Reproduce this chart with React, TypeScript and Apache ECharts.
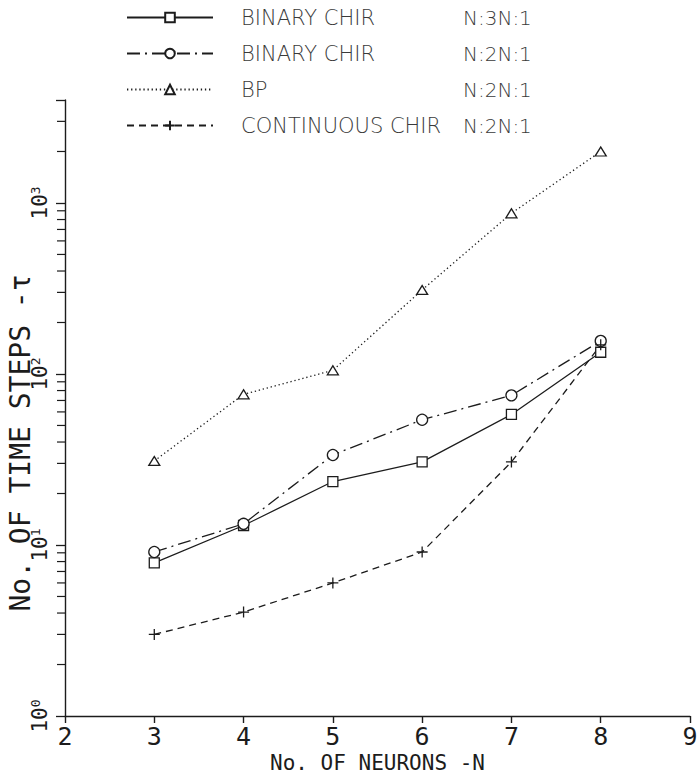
import React, { useEffect, useRef } from "react";
import * as echarts from "echarts";

// ---- data ----
const neurons = [3, 4, 5, 6, 7, 8];
const binaryChir3N = [7.85, 13.0, 23.5, 30.6, 58, 134];
const binaryChir2N = [9.1, 13.3, 33.6, 54, 75, 156];
const bpValues = [31, 76, 105, 310, 870, 2000];
const continuousChir = [3.0, 4.05, 6.0, 9.1, 30.6, 148];

const seriesLabels = ["BINARY CHIR", "BINARY CHIR", "BP", "CONTINUOUS CHIR"];
const seriesRatios = ["N:3N:1", "N:2N:1", "N:2N:1", "N:2N:1"];

const xMin = 2;
const xMax = 9;
const yMin = 1;
const yMax = 4000;
const yMinorTickValues = [
  2, 3, 4, 5, 6, 7, 8, 9,
  20, 30, 40, 50, 60, 70, 80, 90,
  200, 300, 400, 500, 600, 700, 800, 900,
  2000, 3000,
];

const xTitle = "No. OF NEURONS -N";
const yTitle = "No. OF TIME STEPS -\u03c4";

const INK = "#1c1c1c";
const PLOT_FONT = "'DejaVu Sans Mono', monospace";
const LEGEND_FONT = "'DejaVu Sans', 'Liberation Sans', sans-serif";

export default function App() {
  const ref = useRef<HTMLDivElement>(null);

  useEffect(() => {
    if (!ref.current) return;
    const chart = echarts.init(ref.current, null, { renderer: "svg" });

    const names = seriesLabels.map((l, i) => `${l} ${seriesRatios[i]}`);
    const toPairs = (vals: number[]) => neurons.map((n, i) => [n, vals[i]]);

    const baseSeries = (
      idx: number,
      vals: number[],
      symbol: string,
      symbolSize: number | number[],
      dash: any
    ) => ({
      name: names[idx],
      type: "line",
      data: toPairs(vals),
      symbol,
      symbolSize,
      showAllSymbol: true,
      lineStyle: { color: INK, width: 1.3, type: dash },
      itemStyle: { color: "#fff", borderColor: INK, borderWidth: 1.3 },
      emphasis: { disabled: true },
      z: 3,
    });

    const option: any = {
      animation: false,
      backgroundColor: "#fff",
      grid: { left: 65, right: 8, top: 100, bottom: 60, outerBoundsMode: "none", containLabel: false },
      legend: {
        data: names,
        orient: "vertical",
        left: 121,
        top: 2,
        itemWidth: 86,
        itemHeight: 12,
        itemGap: 15,
        selectedMode: false,
        formatter: (name: string) => {
          const i = names.indexOf(name);
          return `{a|${seriesLabels[i]}}{b|${seriesRatios[i]}}`;
        },
        textStyle: {
          rich: {
            a: {
              fontFamily: LEGEND_FONT,
              fontWeight: 200,
              fontSize: 21,
              color: "#3a3a3a",
              width: 222,
              lineHeight: 25,
              padding: [0, 0, 0, 23],
            },
            b: {
              fontFamily: LEGEND_FONT,
              fontWeight: 200,
              fontSize: 20,
              color: "#3a3a3a",
              lineHeight: 25,
            },
          },
        },
      },
      xAxis: {
        type: "value",
        min: xMin,
        max: xMax,
        interval: 1,
        name: xTitle,
        nameLocation: "middle",
        nameGap: 37,
        nameMoveOverlap: false,
        nameTextStyle: { fontFamily: PLOT_FONT, fontSize: 21, color: INK, lineHeight: 19 },
        axisLine: { lineStyle: { color: INK, width: 1.4 } },
        axisTick: { show: true, inside: false, length: 7, lineStyle: { color: INK, width: 1.4 } },
        axisLabel: {
          fontFamily: PLOT_FONT,
          fontSize: 25,
          lineHeight: 21,
          color: INK,
          margin: 10,
          showMinLabel: true,
          showMaxLabel: true,
        },
        splitLine: { show: false },
      },
      yAxis: {
        type: "log",
        logBase: 10,
        min: yMin,
        max: yMax,
        name: yTitle,
        nameLocation: "middle",
        nameRotate: 90,
        nameGap: 31,
        nameMoveOverlap: false,
        nameTextStyle: {
          fontFamily: PLOT_FONT,
          fontSize: 28,
          color: INK,
          padding: [0, 70, 0, 0],
        },
        axisLine: { show: true, lineStyle: { color: INK, width: 1.4 } },
        axisTick: { show: true, inside: false, length: 9, lineStyle: { color: INK, width: 1.3 } },
        axisLabel: {
          rotate: 90,
          margin: 14,
          formatter: (v: number) => {
            const e = Math.log10(v);
            if (Math.abs(e - Math.round(e)) > 1e-6) return "";
            return `{b|10}{e|${Math.round(e)}}`;
          },
          rich: {
            b: { fontFamily: PLOT_FONT, fontSize: 21, color: INK },
            e: { fontFamily: PLOT_FONT, fontSize: 13, color: INK, verticalAlign: "top", padding: [0, 0, 9, 0] },
          },
        },
        splitLine: { show: false },
      },
      series: [
        baseSeries(0, binaryChir3N, "rect", 10, "solid"),
        baseSeries(1, binaryChir2N, "circle", 11, [13, 5, 2, 5]),
        baseSeries(2, bpValues, "triangle", [11, 9], [1.3, 2.8]),
        baseSeries(3, continuousChir, "path://M0,6H12M6,0V12", 11, [7, 5]),
        {
          type: "custom",
          name: "minorTicks",
          silent: true,
          clip: false,
          data: yMinorTickValues.map((v) => [xMin, v]),
          renderItem: (_params: any, api: any) => {
            const p = api.coord([api.value(0), api.value(1)]);
            return {
              type: "line",
              shape: { x1: p[0] - 8, y1: p[1], x2: p[0], y2: p[1] },
              style: { stroke: INK, lineWidth: 1.2 },
            };
          },
          z: 1,
        },
      ],
    };

    chart.setOption(option);
    return () => chart.dispose();
  }, []);

  return <div ref={ref} style={{ width: 698, height: 776, position: "absolute", left: 0, top: 0 }} />;
}
